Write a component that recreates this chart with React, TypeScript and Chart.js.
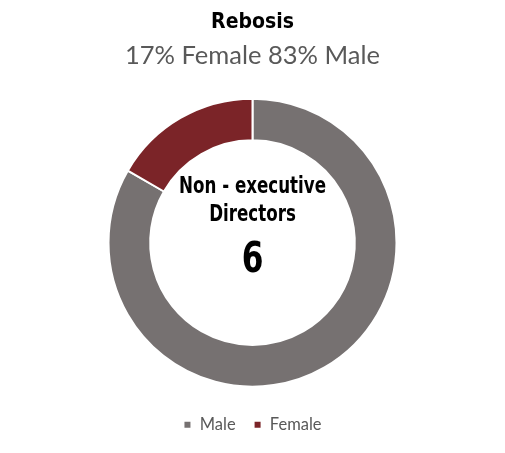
import React, { useEffect, useRef } from "react";
import { Chart, registerables } from "chart.js";

Chart.register(...registerables);

const labels = ["Male", "Female"];
const counts = [5, 1];
const colors = ["#767171", "#7B2428"];
const titleText = "Rebosis";
const subtitleText = "17% Female 83% Male";
const centerLines = ["Non - executive", "Directors"];
const centerValue = "6";

const condensed = "'DejaVu Sans Condensed', 'DejaVu Sans', sans-serif";
const regular = "Lato, 'Open Sans', sans-serif";

function drawNarrow(ctx: any, text: string, x: number, y: number, font: string, squeeze: number) {
  ctx.save();
  ctx.font = font;
  try { ctx.fontStretch = "condensed"; } catch (e) {}
  ctx.translate(x, y);
  ctx.scale(squeeze, 1);
  ctx.fillText(text, 0, 0);
  ctx.restore();
}

const centerTextPlugin = {
  id: "centerText",
  afterDraw(chart: any) {
    const meta = chart.getDatasetMeta(0);
    if (!meta.data.length) return;
    const arc = meta.data[0];
    const cx = arc.x;
    const cy = arc.y;
    const ctx = chart.ctx;
    ctx.save();
    ctx.fillStyle = "#000000";
    ctx.textAlign = "center";
    ctx.textBaseline = "middle";
    ctx.font = `bold 23px ${condensed}`;
    try { ctx.fontStretch = "condensed"; } catch (e) {}
    const w = ctx.measureText(centerLines[0]).width;
    const squeeze = Math.min(1, 147 / w);
    drawNarrow(ctx, centerLines[0], cx, cy - 56, `bold 23px ${condensed}`, squeeze);
    drawNarrow(ctx, centerLines[1], cx, cy - 28, `bold 23px ${condensed}`, squeeze);
    drawNarrow(ctx, centerValue, cx, cy + 18, `bold 43px ${condensed}`, squeeze);
    ctx.restore();
  },
};

export default function App() {
  const ref = useRef<HTMLCanvasElement>(null);
  useEffect(() => {
    document.body.style.margin = "0";
    const chart = new Chart(ref.current!, {
      type: "doughnut",
      data: {
        labels,
        datasets: [
          {
            data: counts,
            backgroundColor: colors,
            borderColor: "#ffffff",
            borderWidth: 2,
          },
        ],
      },
      options: {
        responsive: false,
        animation: false,
        radius: 144,
        cutout: 110,
        layout: { padding: { bottom: 10 } },
        plugins: {
          title: {
            display: true,
            text: titleText,
            color: "#000000",
            font: { family: condensed, size: 21, weight: "bold", style: "condensed" as any },
            padding: { top: 10, bottom: 1 },
          },
          subtitle: {
            display: true,
            text: subtitleText,
            color: "#595959",
            font: { family: regular, size: 25.5, weight: "normal" },
            padding: { top: 4, bottom: 16 },
          },
          legend: {
            position: "bottom",
            labels: {
              usePointStyle: true,
              pointStyle: "rect",
              boxWidth: 8,
              boxHeight: 8,
              color: "#595959",
              font: { family: regular, size: 16.5 },
              padding: 18,
            },
          },
          tooltip: { enabled: false },
        },
      },
      plugins: [centerTextPlugin],
    });
    return () => chart.destroy();
  }, []);
  return (
    <div style={{ width: 505, height: 453, background: "#ffffff" }}>
      <canvas ref={ref} width={505} height={453} />
    </div>
  );
}
